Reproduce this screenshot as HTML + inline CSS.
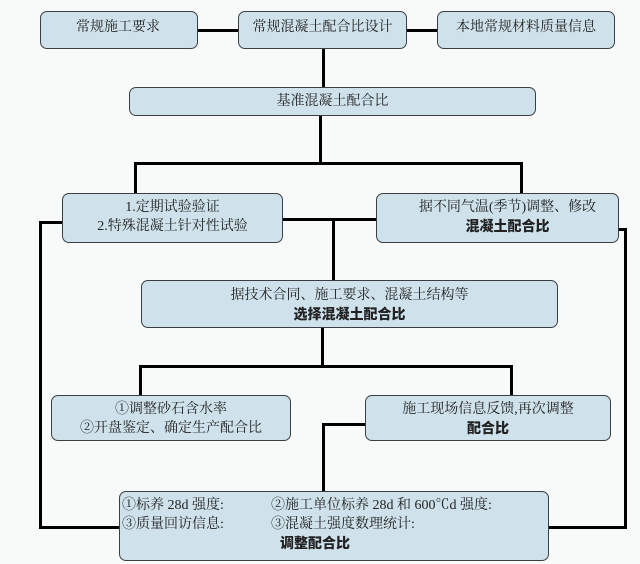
<!DOCTYPE html>
<html><head><meta charset="utf-8"><style>
body{margin:0;width:640px;height:564px;background:#f8f9f9;position:relative;overflow:hidden;font-family:"Liberation Serif","Noto Serif CJK SC","Noto Sans CJK SC",serif;color:#222}
.b{position:absolute;box-sizing:border-box;background:#cfe2eb;border:1.5px solid #3a3f44;border-radius:7px;font-size:14px;text-align:center;line-height:19px}
.l{position:absolute;background:#000}
b{font-family:"Noto Sans CJK SC",sans-serif;font-weight:900}
</style></head><body>
<div class="l" style="left:198px;top:29px;width:40px;height:3px"></div>
<div class="l" style="left:407px;top:29px;width:30px;height:3px"></div>
<div class="l" style="left:322px;top:49px;width:3px;height:38px"></div>
<div class="l" style="left:319px;top:116px;width:3px;height:48px"></div>
<div class="l" style="left:134px;top:162px;width:389px;height:3px"></div>
<div class="l" style="left:134px;top:162px;width:3px;height:32px"></div>
<div class="l" style="left:520px;top:162px;width:3px;height:32px"></div>
<div class="l" style="left:283px;top:218px;width:93px;height:3px"></div>
<div class="l" style="left:332px;top:218px;width:3px;height:63px"></div>
<div class="l" style="left:39px;top:221px;width:24px;height:3px"></div>
<div class="l" style="left:39px;top:221px;width:3px;height:308px"></div>
<div class="l" style="left:39px;top:526px;width:81px;height:3px"></div>
<div class="l" style="left:619px;top:228px;width:8px;height:3px"></div>
<div class="l" style="left:624px;top:228px;width:3px;height:301px"></div>
<div class="l" style="left:549px;top:526px;width:78px;height:3px"></div>
<div class="l" style="left:321px;top:328px;width:3px;height:39px"></div>
<div class="l" style="left:139px;top:365px;width:374px;height:3px"></div>
<div class="l" style="left:139px;top:365px;width:3px;height:31px"></div>
<div class="l" style="left:510px;top:365px;width:3px;height:31px"></div>
<div class="l" style="left:322px;top:423px;width:44px;height:3px"></div>
<div class="l" style="left:322px;top:423px;width:3px;height:69px"></div>

<div class="b" style="left:40px;top:11px;width:158px;height:38px;text-align:left;padding:6px 0 0 35px">常规施工要求</div>
<div class="b" style="left:238px;top:11px;width:169px;height:38px;padding-top:6px">常规混凝土配合比设计</div>
<div class="b" style="left:437px;top:11px;width:178px;height:38px;padding-top:6px">本地常规材料质量信息</div>
<div class="b" style="left:129px;top:87px;width:407px;height:29px;padding-top:4px">基准混凝土配合比</div>
<div class="b" style="left:62px;top:193px;width:221px;height:50px;padding-top:4px">1.定期试验验证<br>2.特殊混凝土针对性试验</div>
<div class="b" style="left:376px;top:193px;width:243px;height:50px;padding:4px 0 0 20px">据不同气温(季节)调整、修改<br><b>混凝土配合比</b></div>
<div class="b" style="left:141px;top:280px;width:417px;height:48px;padding-top:5px">据技术合同、施工要求、混凝土结构等<br><b>选择混凝土配合比</b></div>
<div class="b" style="left:51px;top:395px;width:240px;height:46px;padding-top:4px">①调整砂石含水率<br>②开盘鉴定、确定生产配合比</div>
<div class="b" style="left:365px;top:395px;width:246px;height:46px;padding-top:4px">施工现场信息反馈,再次调整<br><b>配合比</b></div>
<div class="b" style="left:119px;top:491px;width:430px;height:70px;text-align:left;padding:4px 0 0 2px">
<div style="position:relative;height:19px"><span>①标养 28d 强度:</span><span style="position:absolute;left:149px">②施工单位标养 28d 和 600℃d 强度:</span></div>
<div style="position:relative;height:19px"><span>③质量回访信息:</span><span style="position:absolute;left:149px">③混凝土强度数理统计:</span></div>
<div style="padding-left:158px"><b>调整配合比</b></div>
</div>
</body></html>
